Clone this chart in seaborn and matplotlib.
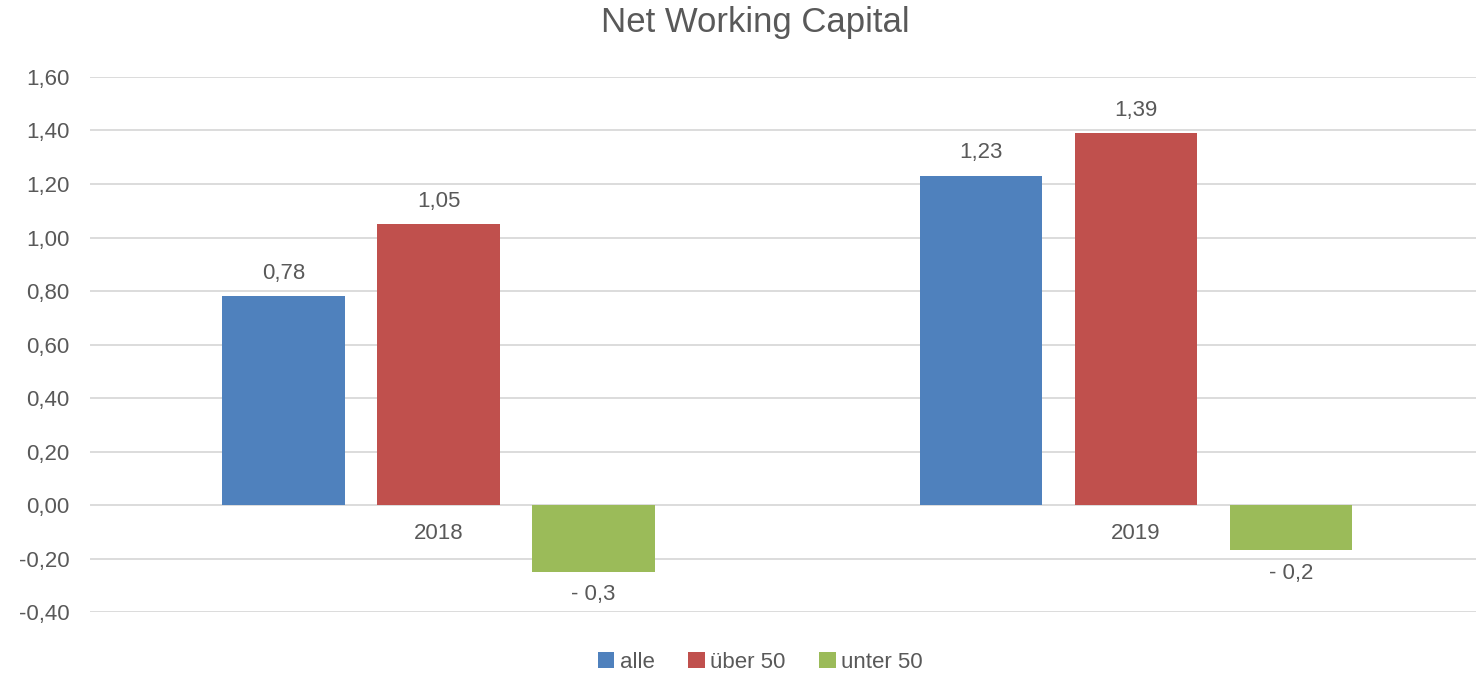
import matplotlib
matplotlib.use("Agg")
import matplotlib.pyplot as plt
import matplotlib.ticker as mticker
import pandas as pd
import seaborn as sns

years = ["2018", "2019"]
groups = ["alle", "über 50", "unter 50"]
alle = [0.78, 1.23]
ueber50 = [1.05, 1.39]
unter50 = [-0.25, -0.17]
bar_labels = {
    "alle": ["0,78", "1,23"],
    "über 50": ["1,05", "1,39"],
    "unter 50": ["- 0,3", "- 0,2"],
}
y_ticks = [-0.4, -0.2, 0.0, 0.2, 0.4, 0.6, 0.8, 1.0, 1.2, 1.4, 1.6]

colors = ["#4F81BD", "#C0504D", "#9BBB59"]
text_col = "#595959"

rows = []
for g, vals in zip(groups, [alle, ueber50, unter50]):
    for yr, v in zip(years, vals):
        rows.append({"Jahr": yr, "Gruppe": g, "Wert": v})
df = pd.DataFrame(rows)

sns.set_style("white")
plt.rcParams["font.family"] = ["Liberation Sans", "DejaVu Sans"]

fig = plt.figure(figsize=(14.76, 6.73), dpi=100)
ax = fig.add_axes([0.061, 0.0906, 0.939, 0.795])

sns.barplot(data=df, x="Jahr", y="Wert", hue="Gruppe", order=years,
            hue_order=groups, palette=colors, saturation=1,
            width=0.667, gap=0.21, linewidth=0, ax=ax, legend=True)

ax.set_ylim(-0.4, 1.6)
ax.set_xlim(-0.5, 1.488)
ax.set_yticks(y_ticks)
ax.yaxis.set_major_formatter(mticker.FuncFormatter(
    lambda v, p: f"{v:.2f}".replace(".", ",")))
ax.grid(axis="y", color="#D9D9D9", linewidth=1.3)
ax.set_axisbelow(True)
sns.despine(ax=ax, left=True, bottom=True)
ax.tick_params(axis="y", length=0, pad=15, labelsize=16, labelcolor=text_col)
ax.set_xticks(range(len(years)))
ax.set_xticklabels([])
ax.tick_params(axis="x", length=0)
ax.set_xlabel("")
ax.set_ylabel("")

for cont, g in zip(ax.containers, groups):
    ax.bar_label(cont, labels=bar_labels[g], padding=9, fontsize=16,
                 color=text_col)

for i, yr in enumerate(years):
    ax.text(i, -0.105, yr, ha="center", va="center", fontsize=16,
            color=text_col)

fig.suptitle("Net Working Capital", x=0.512, y=0.967, va="center",
             fontsize=25, color=text_col)

handles, labels = ax.get_legend_handles_labels()
ax.get_legend().remove()
fig.legend(handles, labels, loc="center", bbox_to_anchor=(0.515, 0.016),
           ncol=3, frameon=False, fontsize=16, handlelength=0.75,
           handleheight=0.75, handletextpad=0.25, columnspacing=1.5,
           labelcolor=text_col)

fig.savefig("out.png", dpi=100)
